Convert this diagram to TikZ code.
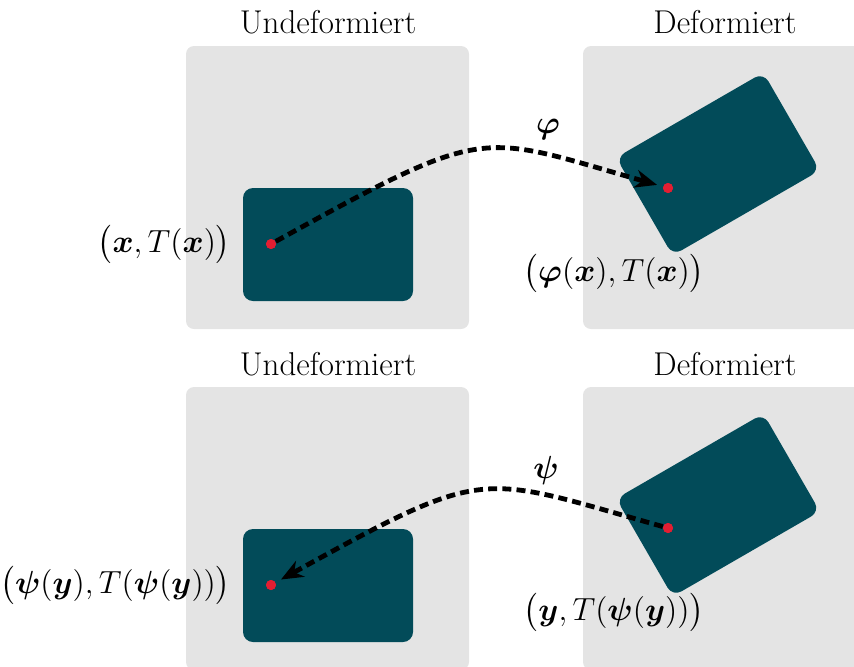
\documentclass[tikz,border=0pt]{standalone}
\usepackage{fix-cm}
\usepackage{fontspec}
\usepackage{amsmath,amssymb}
\usepackage{bm}
\usetikzlibrary{arrows.meta,positioning,calc}
\definecolor{panelcol}{HTML}{E4E4E4}
\definecolor{bodycol}{HTML}{024B59}
\definecolor{ptcol}{HTML}{E31E32}
\tikzset{
  % background panel
  panel/.style={rectangle, rounded corners=4pt, fill=panelcol, minimum width=141.5pt, minimum height=141.5pt, inner sep=0pt},
  % body (undeformed / deformed)
  body/.style={rectangle, rounded corners=5pt, fill=bodycol, minimum width=85pt, minimum height=56.5pt, inner sep=0pt},
  % material point
  matpt/.style={circle, fill=ptcol, inner sep=0pt, minimum size=5pt},
  % mapping arrow
  maparrow/.style={-{Stealth[length=11pt,width=9pt,inset=3.5pt]}, line width=2.4pt, dash pattern=on 4.5pt off 2.6pt, shorten >=3pt},
  % panel title
  ptitle/.style={font=\fontsize{16.5}{19}\selectfont},
  % point label
  plabel/.style={font=\fontsize{16}{19}\selectfont, inner sep=0pt},
}

\begin{document}
\begin{tikzpicture}[x=0.5pt,y=-0.5pt]
  \useasboundingbox (0,0) rectangle (854,666);
  \clip (0,0) rectangle (854,666);

  % top row: phi
  \node[panel] (pu1) at (327.5,187.5) {};
  \node[panel] (pd1) at (724.5,187.5) {};
  \node[ptitle] (tu1) at (328,22) {Undeformiert};
  \node[ptitle] (td1) at (725,22) {Deformiert};
  \node[body] (bu1) at (328,244.5) {};
  \node[body, rotate=30] (bd1) at (718,164) {};
  \node[matpt] (x1) at (271,244) {};
  \node[matpt] (x2) at (668,188) {};
  \draw[maparrow] (x1) .. controls (490,123) and (477,133.6) .. (x2);
  \node[matpt] at (x1) {};
  \node[matpt] at (x2) {};
  \node[plabel] (phi) at (548,129) {$\bm{\varphi}$};
  \node[plabel, anchor=east] (lx1) at (231,244) {$\bigl(\bm{x}, T(\bm{x})\bigr)$};
  \node[plabel] (lx2) at (614,273) {$\bigl(\bm{\varphi}(\bm{x}), T(\bm{x})\bigr)$};

  % bottom row: psi
  \node[panel] (pu2) at (327.5,528.5) {};
  \node[panel] (pd2) at (724.5,528.5) {};
  \node[ptitle] (tu2) at (328,364) {Undeformiert};
  \node[ptitle] (td2) at (725,364) {Deformiert};
  \node[body] (bu2) at (328,585.5) {};
  \node[body, rotate=30] (bd2) at (718,505) {};
  \node[matpt] (y1) at (271,585) {};
  \node[matpt] (y2) at (668,528) {};
  \draw[maparrow] (y2) .. controls (477,474.6) and (490,464) .. (y1);
  \node[matpt] at (y1) {};
  \node[matpt] at (y2) {};
  \node[plabel] (psi) at (546,470) {$\bm{\psi}$};
  \node[plabel, anchor=east] (ly1) at (231,585) {$\bigl(\bm{\psi}(\bm{y}), T(\bm{\psi}(\bm{y}))\bigr)$};
  \node[plabel] (ly2) at (614,612) {$\bigl(\bm{y}, T(\bm{\psi}(\bm{y}))\bigr)$};
\end{tikzpicture}
\end{document}
